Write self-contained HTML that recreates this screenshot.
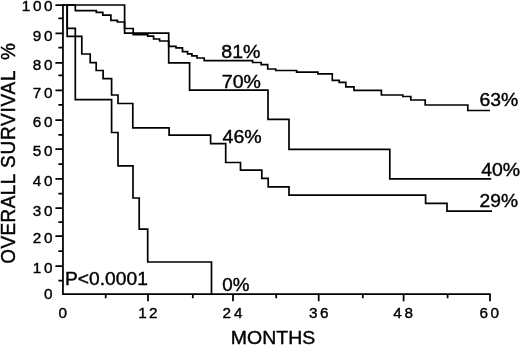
<!DOCTYPE html>
<html>
<head>
<meta charset="utf-8">
<title>Overall survival</title>
<style>
html,body{margin:0;padding:0;background:#fff;}
body{width:520px;height:346px;overflow:hidden;}
svg{display:block;}
text{font-family:"Liberation Sans",Arial,Helvetica,sans-serif;fill:#000;stroke:#000;stroke-width:0.4px;}
.tk{font-size:15.3px;letter-spacing:3px;stroke-width:0.5px;}
.big{font-size:19px;}
.c{fill:none;stroke:#000;stroke-width:1.7;stroke-linejoin:miter;}
.ax{fill:none;stroke:#000;stroke-width:1.75;}
</style>
</head>
<body>
<svg width="520" height="346" viewBox="0 0 520 346">
<rect width="520" height="346" fill="#fff"/>
<!-- axes -->
<path class="ax" d="M62.95,4.3 V294.1 H490.7"/>
<!-- y major ticks -->
<path class="ax" d="M55.4,5 H63 M55.4,33.4 H63 M55.4,62.8 H63 M55.4,90.3 H63 M55.4,120.0 H63 M55.4,149.0 H63 M55.4,178.85 H63 M55.4,208.0 H63 M55.4,236.2 H63 M55.4,266.0 H63"/>
<!-- y minor ticks -->
<path class="ax" d="M58.4,18.4 H63 M58.4,47.5 H63 M58.4,75.4 H63 M58.4,104.8 H63 M58.4,134.9 H63 M58.4,164 H63 M58.4,193.6 H63 M58.4,222.2 H63 M58.4,251.2 H63 M58.4,280.5 H63"/>
<!-- x ticks -->
<path class="ax" d="M148,294.1 V301.3 M233,294.1 V301.3 M318.7,294.1 V301.3 M403.6,294.1 V301.3 M490,294.1 V301.3 M105.7,294.1 V298.2 M192.8,294.1 V298.2 M276.2,294.1 V298.2 M362.8,294.1 V298.2 M447.6,294.1 V298.2"/>
<!-- survival curves -->
<path class="c" d="M63,5 H75.3 V10.6 H96.3 V12.4 H102.8 V15.1 H110.9 V20.4 H117.4 V22 H124.6 V28.5 H133.2 V34.7 H147.7 V36.2 H153.6 V39 H159.6 V41 H168.7 V46.4 H176 V47.8 H182.5 V51.7 H187.6 V53.9 H191.9 V55.8 H197 V58 H204.2 V60.6 H252.6 V62.5 H261.2 V64.6 H267.7 V69 H275.7 V70.5 H296.6 V72.2 H317.9 V73.9 H332.3 V80.4 H339.2 V82.3 H345.8 V86.8 H354 V90.4 H381.4 V95 H402.8 V96.5 H410.8 V100 H425.2 V105 H467.8 V110.5 H490"/>
<path class="c" d="M63,5 H124.6 V33.1 H168.7 V62.9 H189.6 V90.1 H268 V119.4 H289 V149.4 H389.8 V178.9 H491.2"/>
<path class="c" d="M67.2,5 V36.4 H81.8 V54 H90.2 V62.6 H96.2 V70.5 H103.1 V78.7 H111.6 V95 H118 V103.5 H132.8 V127.8 H169.1 V135.2 H210.6 V143.7 H225.7 V162.5 H240.5 V170.1 H261.8 V178.4 H268.2 V186.8 H289 V195.1 H425.6 V203.3 H447 V211.1 H492"/>
<path class="c" d="M67.2,5 V28.3 H75.3 V99.6 H111.6 V132.5 H118 V165.8 H133 V198 H139.2 V229.2 H147.7 V262 H211.5 V294.1"/>

<!-- y labels -->
<g class="tk" text-anchor="end">
<text x="55.2" y="11.0" letter-spacing="2.6">100</text>
<text x="55.0" y="40.9" letter-spacing="2.6">90</text>
<text x="55.0" y="69.8" letter-spacing="2.6">80</text>
<text x="55.0" y="97.8" letter-spacing="2.6">70</text>
<text x="55.0" y="127.0" letter-spacing="2.6">60</text>
<text x="55.0" y="155.8" letter-spacing="2.6">50</text>
<text x="55.0" y="186.0" letter-spacing="2.6">40</text>
<text x="55.0" y="215.5" letter-spacing="2.6">30</text>
<text x="55.0" y="243.4" letter-spacing="2.6">20</text>
<text x="55.0" y="272.8" letter-spacing="2.6">10</text>
<text x="55.0" y="299.0" letter-spacing="2.6">0</text>
</g>
<!-- x labels -->
<g class="tk">
<text x="58.4" y="318.2" letter-spacing="3">0</text>
<text x="138.3" y="318.2" letter-spacing="2.1">12</text>
<text x="222.5" y="318.2" letter-spacing="3">24</text>
<text x="309.0" y="318.2" letter-spacing="2.4">36</text>
<text x="393.2" y="318.2" letter-spacing="2.7">48</text>
<text x="479.5" y="318.2" letter-spacing="2.6">60</text>
</g>
<!-- annotations -->
<g class="big">
<text transform="translate(221.3,58.2) scale(1.03,1)">81%</text>
<text transform="translate(221.8,87.5) scale(1.03,1)">70%</text>
<text transform="translate(222.6,142.8) scale(1.03,1)">46%</text>
<text transform="translate(479.4,105.5) scale(1.02,1)">63%</text>
<text transform="translate(481.2,175.5) scale(1.025,1)">40%</text>
<text transform="translate(479.6,206.5) scale(1.01,1)">29%</text>
<text transform="translate(222.2,291.1) scale(0.99,1)">0%</text>
<text transform="translate(230.8,344.0) scale(1.026,1)">MONTHS</text>
<text transform="translate(65.0,284.9) scale(1.012,1)">P&lt;0.0001</text>
<text transform="translate(15.0,263.8) rotate(-90) scale(1,1.1)" letter-spacing="0.4">OVERALL</text>
<text transform="translate(15.0,168.0) rotate(-90) scale(1,1.1)" letter-spacing="0.77">SURVIVAL</text>
<text transform="translate(15.0,60.0) rotate(-90) scale(1,1.1)">%</text>
</g>
</svg>
</body>
</html>
